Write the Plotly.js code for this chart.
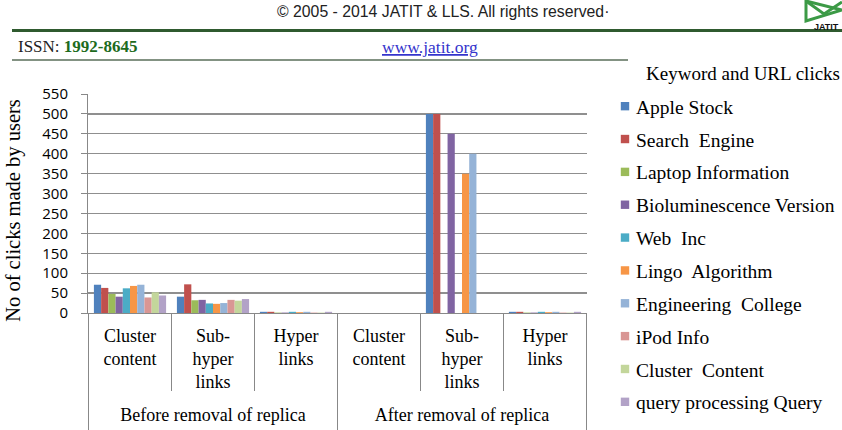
<!DOCTYPE html>
<html>
<head>
<meta charset="utf-8">
<script src="https://cdn.plot.ly/plotly-3.0.1.min.js"></script>
<style>
html,body{margin:0;padding:0;background:#fff;}
#chart{width:842px;height:430px;}
.xtick2{translate:0px 17px;}
.ytitle{translate:0px 7px;}
.legend .legendpoints path{transform-box:fill-box;transform-origin:center;scale:0.7;translate:15px 0px;}
</style>
</head>
<body>
<div id="chart"></div>
<script>
// ---- data ----
const groups = ["Before removal of replica", "After removal of replica"];
const subcats = ["Cluster<br>content", "Sub-<br>hyper<br>links", "Hyper<br>links"];
const seriesNames = ["Apple Stock", "Search  Engine", "Laptop Information", "Bioluminescence Version",
  "Web  Inc", "Lingo  Algorithm", "Engineering  College", "iPod Info", "Cluster  Content", "query processing Query"];
const colors = ["#4F81BD", "#C0504D", "#9BBB59", "#8064A2", "#4BACC6", "#F79646", "#95B3D7", "#D99694", "#C3D69B", "#B2A2C7"];
// values per series: [before-cluster, before-subhyper, before-hyper, after-cluster, after-subhyper, after-hyper]
const appleStock       = [71, 41, 3, 0, 500, 3];
const searchEngine     = [63, 72, 3, 0, 500, 3];
const laptopInfo       = [48, 32, 1, 0, 0, 1];
const biolumVersion    = [41, 33, 1, 0, 450, 1];
const webInc           = [62, 24, 3, 0, 0, 3];
const lingoAlgorithm   = [68, 23, 2, 0, 350, 2];
const engCollege       = [71, 25, 3, 0, 400, 3];
const ipodInfo         = [39, 33, 1, 0, 0, 1];
const clusterContent   = [52, 31, 1, 0, 0, 1];
const queryProcessing  = [44, 35, 3, 0, 0, 3];
const allSeries = [appleStock, searchEngine, laptopInfo, biolumVersion, webInc, lingoAlgorithm,
  engCollege, ipodInfo, clusterContent, queryProcessing];
const yTicks = [0, 50, 100, 150, 200, 250, 300, 350, 400, 450, 500, 550];

// ---- layout helpers (pixel -> paper) ----
const L = 88, R = 587, T = 94, B = 313;
const px = v => (v - L) / (R - L);
const py = v => (B - v) / (B - T);

const outer = [], inner = [];
groups.forEach(g => subcats.forEach(s => { outer.push(g); inner.push(s); }));

const traces = allSeries.map((vals, i) => ({
  type: "bar",
  x: [outer, inner],
  y: vals,
  name: seriesNames[i],
  legendgroup: "g" + i,
  marker: {color: colors[i], line: {width: 0}},
  hoverinfo: "y+name"
}));

const serif = "Liberation Serif, Times New Roman, serif";
const layout = {
  width: 842, height: 430,
  margin: {l: L, r: 842 - R, t: T, b: 430 - B, pad: 0, autoexpand: false},
  paper_bgcolor: "#fff", plot_bgcolor: "#fff",
  barmode: "group", bargap: 0.13, bargroupgap: 0,
  showlegend: true,
  legend: {
    x: px(596), xanchor: "left", y: py(87), yanchor: "top",
    font: {family: serif, size: 19.5, color: "#000"},
    tracegroupgap: 4.5, traceorder: "grouped", bgcolor: "rgba(0,0,0,0)",
    maxheight: 420
  },
  xaxis: {
    type: "multicategory",
    showline: true, linecolor: "#888", linewidth: 1,
    showdividers: false,
    ticks: "", showgrid: false,
    ticklabelstandoff: 6,
    tickfont: {family: serif, size: 18, color: "#000"}
  },
  yaxis: {
    range: [0, 550], tickvals: yTicks, ticktext: yTicks.map(String),
    showgrid: true, gridcolor: "#8f8f8f", gridwidth: 1.3,
    showline: true, linecolor: "#888", linewidth: 1,
    ticks: "outside", ticklen: 6, tickcolor: "#888",
    zeroline: false,
    ticklabelstandoff: 10,
    tickfont: {family: "Open Sans, sans-serif", size: 15, color: "#000"},
    title: {text: "No of clicks made by users", font: {family: serif, size: 20.5, color: "#000"}, standoff: 16},
    automargin: false
  },
  shapes: [
    // inner category dividers below axis
    ...[0.5, 1.5, 3.5, 4.5].map(xv => ({type: "line", xref: "x", yref: "paper", x0: xv, x1: xv, y0: 0, y1: py(391), line: {color: "#888", width: 1}})),
    // outer group dividers below axis
    ...[-0.5, 2.5, 5.5].map(xv => ({type: "line", xref: "x", yref: "paper", x0: xv, x1: xv, y0: 0, y1: py(431), line: {color: "#888", width: 1}})),
    // page header lines
    {type: "line", xref: "paper", yref: "paper", x0: px(12), x1: px(842), y0: py(30.5), y1: py(30.5), line: {color: "#2f5a2f", width: 3}},
    {type: "line", xref: "paper", yref: "paper", x0: px(12), x1: px(628), y0: py(60), y1: py(60), line: {color: "#5a6e5a", width: 1.5}},
    // logo triangle
    {type: "path", xref: "paper", yref: "paper",
     path: `M ${px(806)},${py(1)} L ${px(842)},${py(10)} L ${px(806)},${py(21)} Z`,
     line: {color: "#3c9a46", width: 3}, fillcolor: "rgba(0,0,0,0)"},
    {type: "path", xref: "paper", yref: "paper",
     path: `M ${px(806)},${py(1)} L ${px(824)},${py(14)} L ${px(842)},${py(2)}`,
     line: {color: "#3c9a46", width: 3}, fillcolor: "rgba(0,0,0,0)"}
  ],
  annotations: [
    {xref: "paper", yref: "paper", x: px(443), y: py(12), xanchor: "center", yanchor: "middle", showarrow: false,
     text: "© 2005 - 2014 JATIT & LLS. All rights reserved·", font: {family: "Liberation Sans, Arial, sans-serif", size: 15.8, color: "#222"}},
    {xref: "paper", yref: "paper", x: px(16), y: py(47), xanchor: "left", yanchor: "middle", showarrow: false,
     text: "ISSN: <b><span style='color:#1d6b1d'>1992-8645</span></b>", font: {family: serif, size: 17, color: "#222"}},
    {xref: "paper", yref: "paper", x: px(430), y: py(47), xanchor: "center", yanchor: "middle", showarrow: false,
     text: "<u>www.jatit.org</u>", font: {family: serif, size: 17.5, color: "#3434cc"}},
    {xref: "paper", yref: "paper", x: px(644), y: py(73), xanchor: "left", yanchor: "middle", showarrow: false,
     text: "Keyword and URL clicks", font: {family: serif, size: 19, color: "#000"}},
    {xref: "paper", yref: "paper", x: px(841), y: py(27), xanchor: "right", yanchor: "middle", showarrow: false,
     text: "<b>JATIT</b>", font: {family: "Liberation Sans, Arial, sans-serif", size: 9, color: "#111"}}
  ]
};

Plotly.newPlot("chart", traces, layout, {displayModeBar: false, staticPlot: true});
</script>
</body>
</html>
